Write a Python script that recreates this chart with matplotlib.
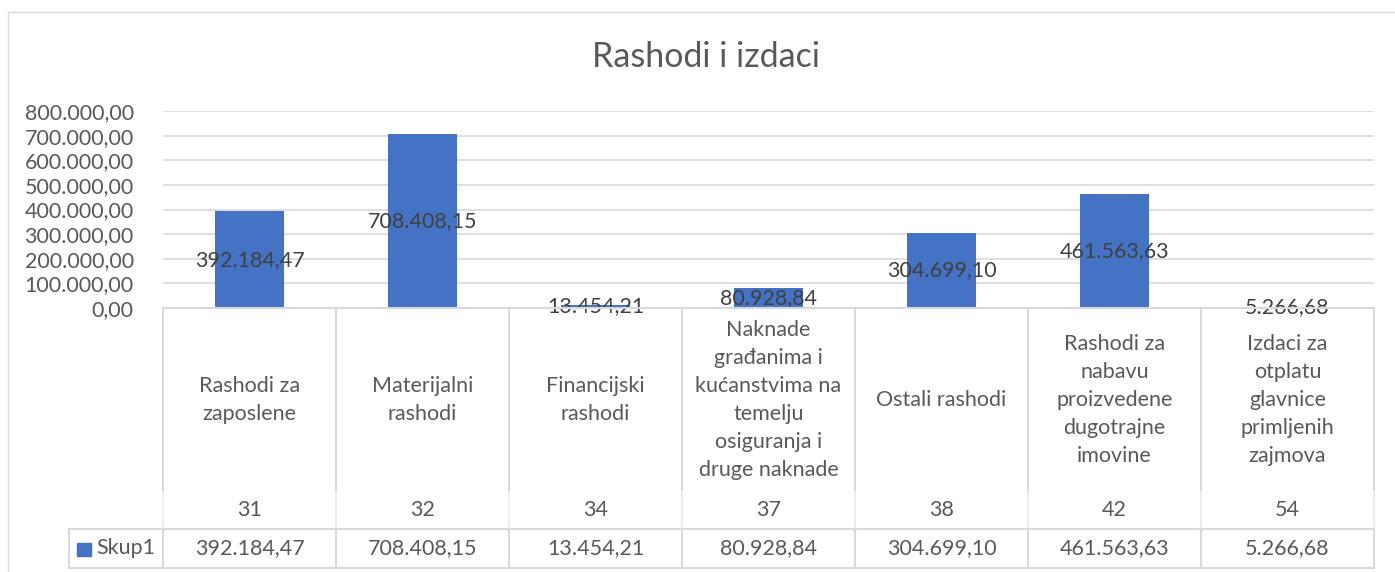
import matplotlib
matplotlib.use("Agg")
import matplotlib.pyplot as plt
from matplotlib.patches import Rectangle
from matplotlib.lines import Line2D
import matplotlib.transforms as mtransforms
from matplotlib.ticker import FuncFormatter

# ---------------- data ----------------
codes = ["31", "32", "34", "37", "38", "42", "54"]
categories = [
    "Rashodi za\nzaposlene",
    "Materijalni\nrashodi",
    "Financijski\nrashodi",
    "Naknade\ngrađanima i\nkućanstvima na\ntemelju\nosiguranja i\ndruge naknade",
    "Ostali rashodi",
    "Rashodi za\nnabavu\nproizvedene\ndugotrajne\nimovine",
    "Izdaci za\notplatu\nglavnice\nprimljenih\nzajmova",
]
values = [392184.47, 708408.15, 13454.21, 80928.84, 304699.10, 461563.63, 5266.68]
series_name = "Skup1"
title = "Rashodi i izdaci"
y_ticks = [0, 100000, 200000, 300000, 400000, 500000, 600000, 700000, 800000]


def fmt(v):
    s = f"{v:,.2f}"
    return s.replace(",", "X").replace(".", ",").replace("X", ".")


# ---------------- style ----------------
plt.rcParams['font.family'] = ['Lato', 'DejaVu Sans']
TXT = '#595959'
LBL = '#404040'
GRID = '#D9D9D9'
BAR = '#4472C4'
FS = 15.5

W, H = 1395, 572
fig = plt.figure(figsize=(W / 100, H / 100), dpi=100)
fig.patch.set_facecolor('white')


def fx(px):
    return px / W


def fy(py):
    return 1 - py / H


# chart border
fig.add_artist(Rectangle((fx(8), fy(600)), fx(1420) - fx(8), fy(12) - fy(600),
                         transform=fig.transFigure, fill=False, edgecolor=GRID, lw=1))

fig.text(fx(706), fy(57), title, ha='center', va='center', fontsize=24.5, color=TXT)

PL, PR, PT, PB = 163, 1374, 111, 308
ax = fig.add_axes([fx(PL), fy(PB), fx(PR) - fx(PL), fy(PT) - fy(PB)])
x = list(range(len(values)))
ax.bar(x, values, width=0.4, color=BAR, zorder=3)
ax.set_xlim(-0.5, len(values) - 0.5)
ax.set_ylim(0, 800000)
ax.set_yticks(y_ticks)
ax.yaxis.set_major_formatter(FuncFormatter(lambda v, p: fmt(v)))
ax.set_xticks([])
ax.tick_params(axis='y', length=0, pad=21, labelsize=FS, labelcolor=TXT)
for s in ax.spines.values():
    s.set_visible(False)
ax.yaxis.grid(True, color=GRID, lw=1.2, zorder=0)
ax.set_axisbelow(True)

for xi, v in zip(x, values):
    ax.text(xi, v / 2, fmt(v), ha='center', va='center', fontsize=FS, color=LBL, zorder=5)

# ---------------- category axis + data table ----------------
tr = mtransforms.blended_transform_factory(ax.transData, fig.transFigure)
n = len(values)
CAT_B, CODE_B, TAB_B = 492, 529, 568

fig.add_artist(Line2D([-0.5, n - 0.5], [fy(PB), fy(PB)], transform=tr, color=GRID, lw=1.5))
for i in range(n + 1):
    xb = i - 0.5
    fig.add_artist(Line2D([xb, xb], [fy(PB), fy(CAT_B)], transform=tr, color=GRID, lw=1.5))
    fig.add_artist(Line2D([xb, xb], [fy(CAT_B), fy(CODE_B)], transform=tr, color='#EEEEEE', lw=1.5))
    fig.add_artist(Line2D([xb, xb], [fy(CODE_B), fy(TAB_B)], transform=tr, color=GRID, lw=1.5))

for yy in (CODE_B, TAB_B):
    fig.add_artist(Line2D([fx(69), fx(PR)], [fy(yy), fy(yy)], transform=fig.transFigure,
                          color=GRID, lw=1.5))
fig.add_artist(Line2D([fx(69), fx(69)], [fy(CODE_B), fy(TAB_B)], transform=fig.transFigure,
                      color=GRID, lw=1.5))

for xi, cat, code, v in zip(x, categories, codes, values):
    fig.text(xi, fy(400), cat, transform=tr, ha='center', va='center', fontsize=FS,
             color=TXT, linespacing=1.5, multialignment='center')
    fig.text(xi, fy(510), code, transform=tr, ha='center', va='center', fontsize=FS, color=TXT)
    fig.text(xi, fy(548), fmt(v), transform=tr, ha='center', va='center', fontsize=FS, color=TXT)

fig.add_artist(Rectangle((fx(77), fy(556)), fx(91) - fx(77), fy(543) - fy(556),
                         transform=fig.transFigure, color=BAR))
fig.text(fx(96), fy(548), series_name, ha='left', va='center', fontsize=FS, color=TXT)

fig.savefig('out.png', dpi=100, facecolor='white')
